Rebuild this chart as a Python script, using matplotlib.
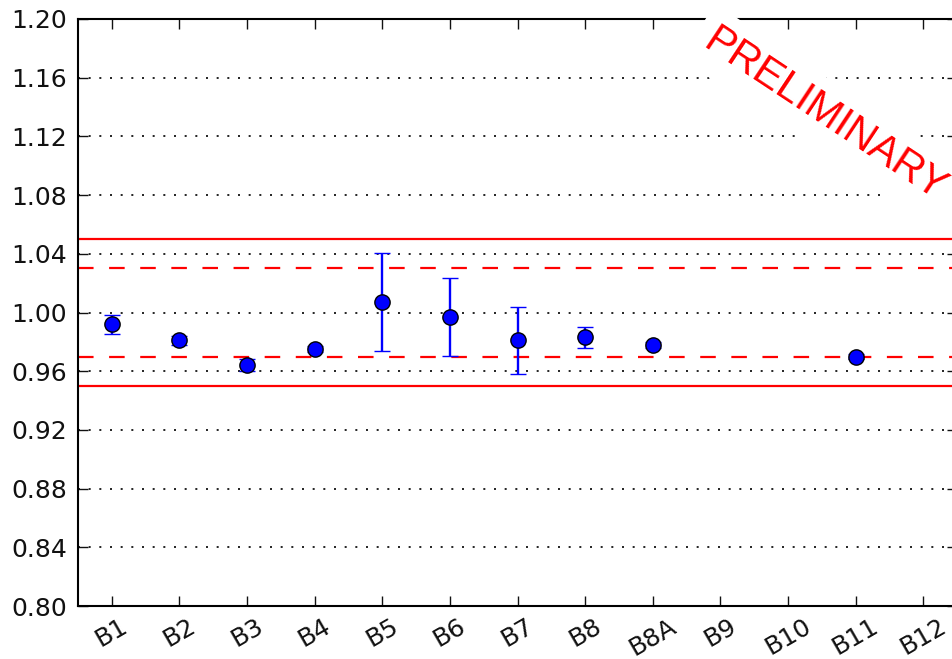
import numpy as np
import matplotlib
matplotlib.use("Agg")
import matplotlib.pyplot as plt

bands = ["B1", "B2", "B3", "B4", "B5", "B6", "B7", "B8", "B8A", "B9", "B10", "B11", "B12"]
ratio = [0.992, 0.981, 0.964, 0.975, 1.007, 0.997, 0.981, 0.983, 0.978, np.nan, np.nan, 0.970, np.nan]
ratio_err = [0.0065, 0.003, 0.004, 0.002, 0.0335, 0.0267, 0.023, 0.0073, 0.002, np.nan, np.nan, 0.002, np.nan]

outer_limits = [0.95, 1.05]
inner_limits = [0.97, 1.03]
yticks = [0.80, 0.84, 0.88, 0.92, 0.96, 1.00, 1.04, 1.08, 1.12, 1.16, 1.20]

fig = plt.figure(figsize=(9.52, 6.59), dpi=100)
ax = fig.add_axes([78 / 952, 53 / 659, 879 / 952, 587 / 659])

x = np.arange(len(bands))

# tolerance bands
for lim in outer_limits:
    ax.axhline(lim, color="red", lw=1.6, zorder=2)
for lim in inner_limits:
    ax.axhline(lim, color="red", lw=1.6, ls=(0, (7, 7)), zorder=2)

ax.errorbar(x, ratio, yerr=ratio_err, fmt="o", color="blue", ecolor="blue",
            mfc="blue", mec="black", mew=1.0, ms=11, elinewidth=1.7,
            capsize=6, capthick=1.3, zorder=3)

ax.set_xlim(-0.5, len(bands) - 0.5)
ax.set_ylim(0.80, 1.20)
ax.set_yticks(yticks)
ax.set_yticklabels([f"{v:.2f}" for v in yticks])
ax.set_xticks(x)
ax.set_xticklabels(bands, rotation=30)

ax.yaxis.grid(True, color="black", ls=(0, (1.2, 5.2)), lw=1.2)
ax.xaxis.grid(False)
ax.tick_params(direction="in", length=7, width=1, top=True, right=True,
               labelsize=18, colors="#111111", pad=8)
ax.tick_params(axis="x", pad=6)
for s in ax.spines.values():
    s.set_linewidth(1.5)

fig.text(702 / 952, 1 - 47 / 659, "PRELIMINARY", color="red", fontsize=30,
         family="Liberation Sans", rotation=-33.5, ha="left", va="baseline",
         rotation_mode="anchor", zorder=10,
         bbox=dict(facecolor="white", edgecolor="none", pad=9))

fig.savefig("out.png", dpi=100)
